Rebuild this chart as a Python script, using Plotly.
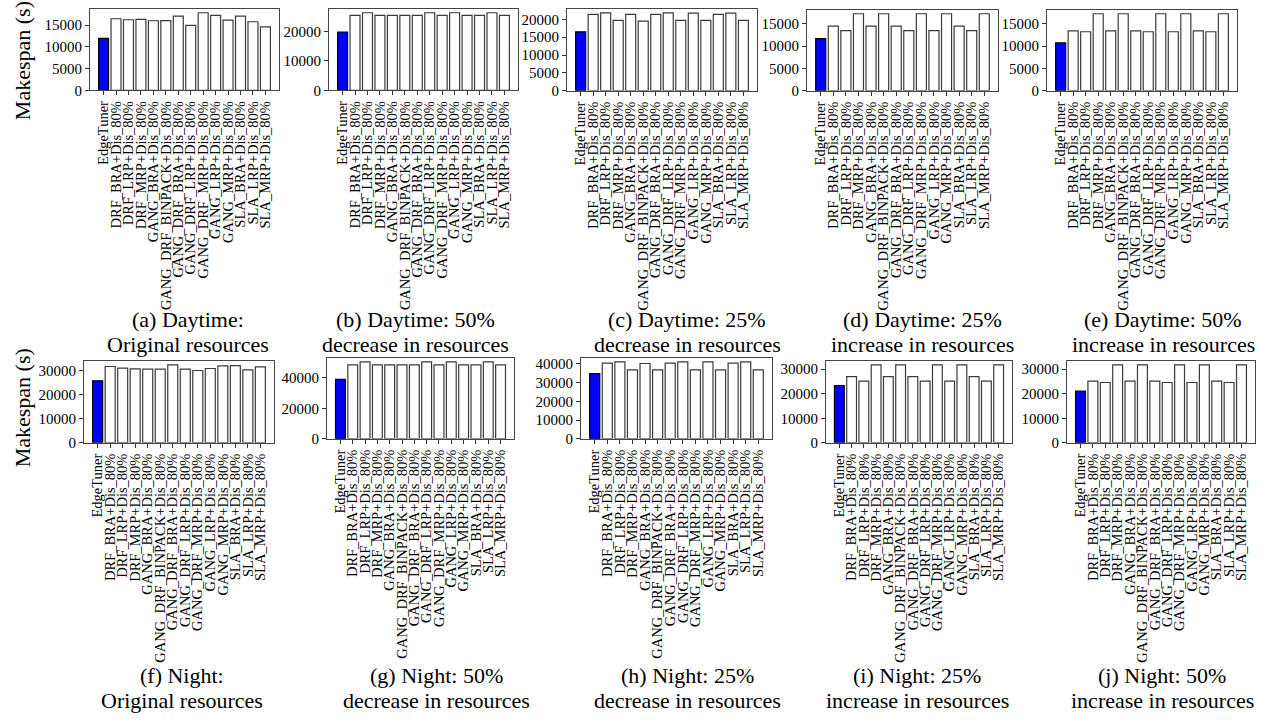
import plotly.graph_objects as go

categories = ["EdgeTuner", "DRF_BRA+Dis_80%", "DRF_LRP+Dis_80%", "DRF_MRP+Dis_80%",
              "GANG_BRA+Dis_80%", "GANG_DRF_BINPACK+Dis_80%", "GANG_DRF_BRA+Dis_80%",
              "GANG_DRF_LRP+Dis_80%", "GANG_DRF_MRP+Dis_80%", "GANG_LRP+Dis_80%",
              "GANG_MRP+Dis_80%", "SLA_BRA+Dis_80%", "SLA_LRP+Dis_80%", "SLA_MRP+Dis_80%"]

day_original = [11950, 16450, 16220, 16300, 15990, 16000, 17060, 14920, 17825, 17210, 16140, 17060, 15760, 14600]
day_dec50 = [19900, 25560, 26470, 25560, 25560, 25560, 25560, 26470, 25560, 26470, 25560, 25560, 26470, 25560]
day_dec25 = [16500, 21375, 21840, 19690, 21375, 19500, 21375, 21840, 19690, 21750, 19690, 21375, 21750, 19690]
day_inc25 = [11710, 14500, 13500, 17300, 14500, 17300, 14500, 13500, 17300, 13500, 17300, 14500, 13500, 17300]
day_inc50 = [10730, 13450, 13230, 17270, 13450, 17270, 13450, 13230, 17270, 13230, 17270, 13450, 13230, 17270]

night_original = [25860, 31810, 31120, 30840, 30700, 30700, 32500, 30700, 30150, 30980, 32090, 32220, 30430, 31700]
night_dec50 = [38940, 48520, 50430, 48520, 48520, 48520, 48520, 50430, 48520, 50430, 48520, 48520, 50430, 48520]
night_dec25 = [34830, 40340, 41030, 36720, 40170, 36720, 40340, 41030, 36720, 41030, 36720, 40340, 41030, 36720]
night_inc25 = [23340, 27000, 25100, 31750, 27000, 31750, 27000, 25100, 31750, 25100, 31750, 27000, 25100, 31750]
night_inc50 = [21030, 25100, 24560, 31750, 25100, 31750, 25100, 24560, 31750, 24560, 31750, 25100, 24560, 31750]

series = [day_original, day_dec50, day_dec25, day_inc25, day_inc50,
          night_original, night_dec50, night_dec25, night_inc25, night_inc50]
ytick_steps = [5000, 10000, 5000, 5000, 5000, 10000, 20000, 10000, 10000, 10000]

captions = [("(a) Daytime:", "Original resources"),
            ("(b) Daytime: 50%", "decrease in resources"),
            ("(c) Daytime: 25%", "decrease in resources"),
            ("(d) Daytime: 25%", "increase in resources"),
            ("(e) Daytime: 50%", "increase in resources"),
            ("(f) Night:", "Original resources"),
            ("(g) Night: 50%", "decrease in resources"),
            ("(h) Night: 25%", "decrease in resources"),
            ("(i) Night: 25%", "increase in resources"),
            ("(j) Night: 50%", "increase in resources")]

W, H = 1266, 723
# pixel boxes (left, right, top, bottom)
boxes = [(90, 279, 7, 89.5), (329, 518, 7, 89.5), (567, 757, 7, 90), (807, 998, 8, 90), (1047, 1237, 8, 90),
         (84, 274, 364, 447), (327, 514, 361, 443), (581, 772, 361, 443), (826, 1012, 364, 447), (1067, 1255, 364, 447)]
caption_x = [188, 415, 687, 922, 1163, 182, 436, 687, 917, 1162]
caption_y = [(322, 347), (322, 347), (322, 347), (322, 347), (322, 347),
             (683, 708), (683, 708), (683, 708), (683, 708), (683, 708)]

FONT = "Times New Roman, Liberation Serif, DejaVu Serif, serif"
fig = go.Figure()
layout = dict(width=W, height=H, margin=dict(l=0, r=0, t=0, b=0),
              paper_bgcolor="white", plot_bgcolor="white", showlegend=False,
              font=dict(family=FONT, color="black", size=14), bargap=0.2)
annotations = []
for i, (vals, step, box) in enumerate(zip(series, ytick_steps, boxes)):
    k = "" if i == 0 else str(i + 1)
    colors = ["#0000ff"] + ["white"] * (len(categories) - 1)
    lcolors = ["#000000"] + ["#3a3a3a"] * (len(categories) - 1)
    fig.add_trace(go.Bar(x=list(range(len(categories))), y=vals, marker=dict(color=colors, line=dict(color=lcolors, width=1.2)),
                         xaxis="x" + k, yaxis="y" + k, width=0.8, hoverinfo="skip"))
    l, r, t, b = box
    layout["xaxis" + k] = dict(domain=[l / W, r / W], anchor="y" + k, range=[-1.09, len(categories) - 1 + 1.09],
                               tickmode="array", tickvals=list(range(len(categories))), ticktext=categories,
                               tickangle=-90, ticks="outside", ticklen=4, tickcolor="#333",
                               showline=True, linecolor="#444", linewidth=1, mirror=True, showgrid=False,
                               tickfont=dict(family=FONT, size=14.5, color="black"), zeroline=False)
    layout["yaxis" + k] = dict(domain=[1 - b / H, 1 - t / H], anchor="x" + k, range=[0, max(vals) * 1.05],
                               tick0=0, dtick=step, tickformat="d", ticks="outside", ticklen=4, tickcolor="#333",
                               showline=True, linecolor="#444", linewidth=1, mirror=True, showgrid=False,
                               tickfont=dict(family=FONT, size=15, color="black"), zeroline=False)
    c1, c2 = captions[i]
    cx = caption_x[i]
    y1, y2 = caption_y[i]
    for txt, yy in ((c1, y1), (c2, y2)):
        annotations.append(dict(text=txt, x=cx / W, y=1 - yy / H, xref="paper", yref="paper",
                                xanchor="center", yanchor="middle", showarrow=False,
                                font=dict(family=FONT, size=22, color="black")))

for yy in (60, 412):
    annotations.append(dict(text="Makespan (s)", x=22 / W, y=1 - yy / H, xref="paper", yref="paper",
                            xanchor="center", yanchor="middle", showarrow=False, textangle=-90,
                            font=dict(family=FONT, size=22, color="black")))
layout["annotations"] = annotations
fig.update_layout(**layout)
fig.write_html("out.html", config={"displayModeBar": False},
               post_script="document.body.style.margin='0';document.body.style.overflow='hidden';")
